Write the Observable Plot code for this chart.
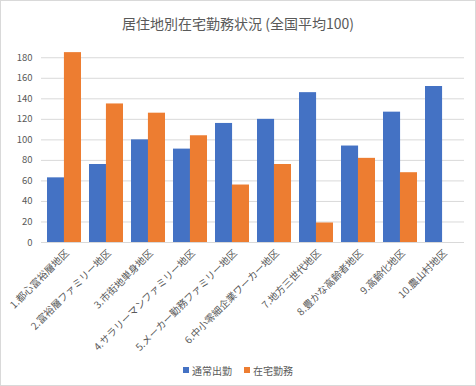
<!DOCTYPE html>
<html><head><meta charset="utf-8">
<script src="https://cdn.jsdelivr.net/npm/d3@7"></script>
<script src="https://cdn.jsdelivr.net/npm/@observablehq/plot@0.6"></script>
<style>
body{margin:0;background:#fff;font-family:"Noto Sans CJK JP","Noto Sans",sans-serif;}
#wrap{position:relative;width:474px;height:384px;border:1px solid #d9d9d9;overflow:hidden;background:#fff;}
#title{height:42px;line-height:44px;text-align:center;font-size:14px;color:#595959;}
#chart{height:312px;}
#legend{height:30px;display:flex;justify-content:center;align-items:center;font-size:10px;color:#595959;}
#legend .item{display:flex;align-items:center;margin:0 6px;}
#legend .sw{width:6px;height:6px;margin-right:3px;}
</style></head>
<body>
<div id="wrap">
  <div id="title">居住地別在宅勤務状況 (全国平均100)</div>
  <div id="chart"></div>
  <div id="legend"></div>
</div>
<script>
const categories = ["1.都心富裕層地区","2.富裕層ファミリー地区","3.市街地単身地区","4.サラリーマンファミリー地区","5.メーカー勤務ファミリー地区","6.中小零細企業ワーカー地区","7.地方三世代地区","8.豊かな高齢者地区","9.高齢化地区","10.農山村地区"];
const seriesNames = ["通常出勤","在宅勤務"];
const commute = [63, 76, 100, 91, 116, 120, 146, 94, 127, 152];
const remote = [185, 135, 126, 104, 56, 76, 19, 82, 68, null];
const yTicks = [0, 20, 40, 60, 80, 100, 120, 140, 160, 180];
const colors = ["#4472C4", "#ED7D31"];

const rowsA = categories.map((c, i) => ({cat: c, series: seriesNames[0], value: commute[i]}));
const rowsB = categories.map((c, i) => ({cat: c, series: seriesNames[1], value: remote[i]})).filter(d => d.value != null);

const W = 474, mL = 40, mR = 11;
const half = (W - mL - mR) / categories.length * 0.8 / 2;

const plot = Plot.plot({
  width: W, height: 312,
  marginLeft: mL, marginRight: mR, marginTop: 4, marginBottom: 113,
  style: {color: "#595959", fontFamily: "'Noto Sans CJK JP', sans-serif", background: "transparent"},
  x: {type: "band", domain: categories, paddingInner: 0.2, paddingOuter: 0.1, axis: null},
  y: {domain: [0, 190], axis: null},
  color: {domain: seriesNames, range: colors},
  marks: [
    Plot.ruleY(yTicks, {y: d => d, stroke: "#d9d9d9", strokeWidth: 1}),
    Plot.barY(rowsA, {x: "cat", y: "value", fill: "series", insetRight: half}),
    Plot.barY(rowsB, {x: "cat", y: "value", fill: "series", insetLeft: half}),
    Plot.axisY({ticks: yTicks, tickSize: 0, tickPadding: 9, fontSize: 9.5, label: null}),
    Plot.axisX({tickRotate: -45, tickSize: 0, tickPadding: 9, dx: 3, fontSize: 10, label: null})
  ]
});
document.getElementById("chart").appendChild(plot);

const lg = document.getElementById("legend");
seriesNames.forEach((s, i) => {
  const it = document.createElement("div"); it.className = "item";
  const sw = document.createElement("div"); sw.className = "sw"; sw.style.background = colors[i];
  const tx = document.createElement("span"); tx.textContent = s;
  it.appendChild(sw); it.appendChild(tx); lg.appendChild(it);
});
</script>
</body></html>
